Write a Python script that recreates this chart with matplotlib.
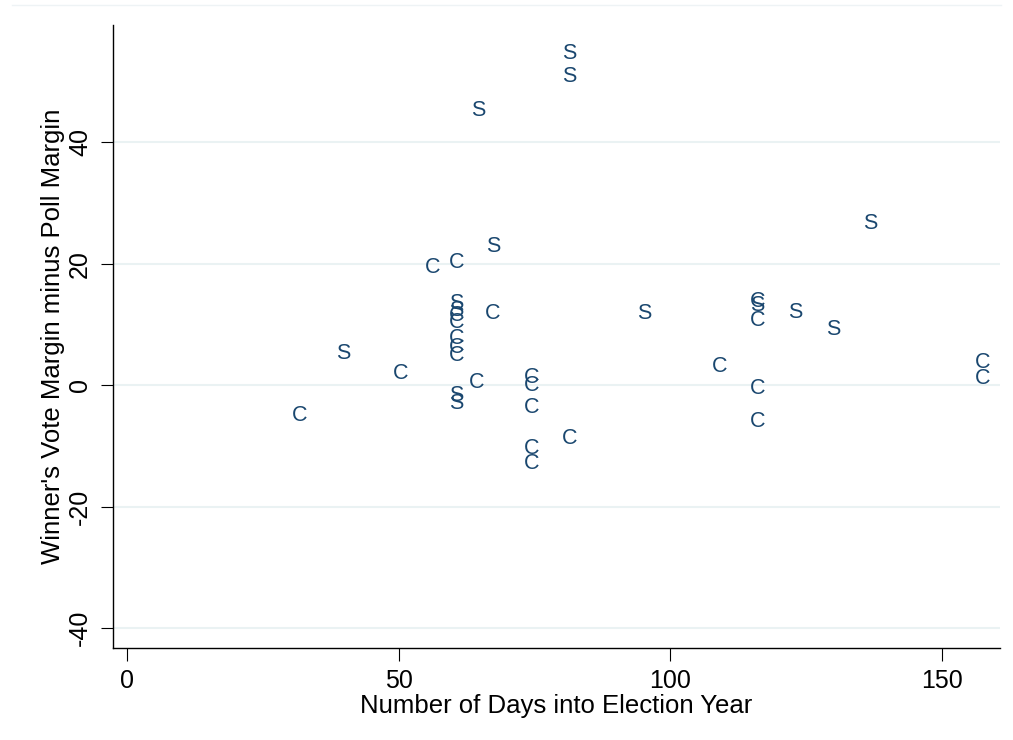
import matplotlib
matplotlib.use("Agg")
import matplotlib.pyplot as plt
from matplotlib.transforms import offset_copy

plt.rcParams['font.family'] = ['Liberation Sans', 'DejaVu Sans']

# days into election year, margin difference, label letter
days = [81.4, 81.4, 64.6, 67.4, 56.3, 60.6, 60.6, 60.6, 60.6, 60.6, 60.6, 60.6,
        60.6, 60.6, 60.6, 67.4, 39.8, 50.4, 64.4, 74.4, 74.4, 74.4, 81.4, 74.4,
        74.4, 31.7, 95.2, 109.1, 116.1, 116.1, 116.1, 123.0, 130.0, 136.9,
        116.1, 116.1, 157.6, 157.6]
margin = [54.6, 50.9, 45.3, 22.9, 19.4, 20.2, 13.5, 12.3, 11.5, 10.4, 7.7, 6.3,
          4.9, -1.6, -3.0, 11.8, 5.3, 2.0, 0.5, 1.3, 0.0, -3.6, -8.7, -10.4,
          -12.8, -4.9, 11.9, 3.1, 13.8, 13.1, 10.7, 12.0, 9.2, 26.6, -0.5, -5.9,
          3.8, 1.2]
letters = ['S', 'S', 'S', 'S', 'C', 'C', 'S', 'S', 'C', 'C', 'C', 'C', 'C', 'S',
           'S', 'C', 'S', 'C', 'C', 'C', 'C', 'C', 'C', 'C', 'C', 'C', 'S', 'C',
           'C', 'S', 'C', 'S', 'S', 'S', 'C', 'C', 'C', 'C']

xticks = [0, 50, 100, 150]
yticks = [-40, -20, 0, 20, 40]

fig = plt.figure(figsize=(10.13, 7.40), dpi=100)
ax = fig.add_axes([0.1115, 0.1243, 0.8755, 0.8419])

ax.set_xlim(-2.6, 160.7)
ax.set_ylim(-43.3, 59.3)

# small nudge so the capital letter sits centred on its point
lbl_trans = offset_copy(ax.transData, fig=fig, x=0, y=1.5, units='points')
for d, m, s in zip(days, margin, letters):
    ax.text(d, m, s, color='#1a476f', fontsize=15.5, ha='center',
            va='center_baseline', transform=lbl_trans)

ax.set_yticks(yticks)
ax.set_xticks(xticks)
ax.grid(axis='y', color='#eaf2f3', linewidth=1.5)
ax.set_axisbelow(True)

for side in ['top', 'right']:
    ax.spines[side].set_visible(False)
for side in ['left', 'bottom']:
    ax.spines[side].set_linewidth(1.0)
    ax.spines[side].set_color('black')

ax.tick_params(axis='both', length=9, width=0.8, labelsize=18, pad=6)
ax.set_yticklabels([str(t) for t in yticks], rotation=90, va='center')

ax.set_xlabel('Number of Days into Election Year', fontsize=18.5, labelpad=1)
ax.set_ylabel("Winner's Vote Margin minus Poll Margin", fontsize=18.5,
              labelpad=2)

# faint outer frame line at the top
fig.add_artist(plt.Line2D([0.012, 0.988], [0.993, 0.993], color='#eef3f5', lw=1))

fig.savefig('out.png', dpi=100)
